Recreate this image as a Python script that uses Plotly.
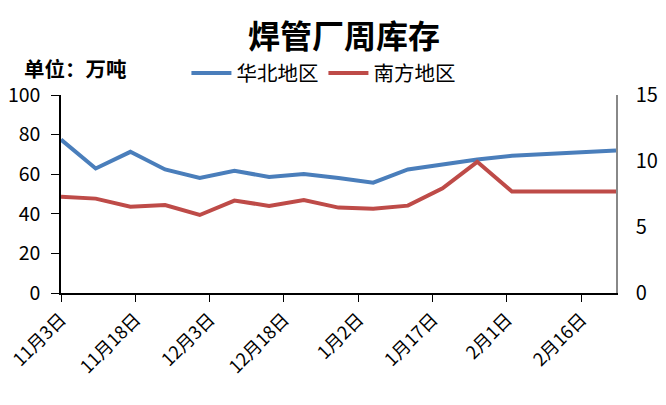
import plotly.graph_objects as go

dates = ["2014-11-03", "2014-11-10", "2014-11-17", "2014-11-24", "2014-12-01", "2014-12-08",
         "2014-12-15", "2014-12-22", "2014-12-29", "2015-01-05", "2015-01-12", "2015-01-19",
         "2015-01-26", "2015-02-02", "2015-02-09", "2015-02-16", "2015-02-23"]
huabei = [77.5, 62.9, 71.3, 62.4, 58.1, 61.7, 58.6, 60.1, 58.1, 55.7, 62.4, 65.1,
          67.4, 69.3, 70.2, 71.1, 72.0]
nanfang = [7.30, 7.15, 6.54, 6.67, 5.91, 7.00, 6.60, 7.05, 6.47, 6.39, 6.62, 7.93,
           9.94, 7.68, 7.68, 7.68, 7.68]
tick_vals = ["2014-11-03", "2014-11-18", "2014-12-03", "2014-12-18", "2015-01-02",
             "2015-01-17", "2015-02-01", "2015-02-16"]
tick_text = ["11月3日", "11月18日", "12月3日", "12月18日", "1月2日", "1月17日", "2月1日", "2月16日"]

FONT = "Noto Sans CJK SC"
W, H = 658, 397  # page body adds an 8px margin

fig = go.Figure()
fig.add_trace(go.Scatter(x=dates, y=huabei, name="华北地区", mode="lines",
                         line=dict(color="#4A7EBB", width=4)))
fig.add_trace(go.Scatter(x=dates, y=nanfang, name="南方地区", mode="lines", yaxis="y2",
                         line=dict(color="#BE4B48", width=4)))

fig.update_layout(
    width=W, height=H,
    margin=dict(l=53, r=50, t=87, b=112, autoexpand=False),
    paper_bgcolor="white", plot_bgcolor="white",
    font=dict(family=FONT, color="black", size=17),
    title=dict(text="<b>焊管厂周库存</b>", x=336 / W, xanchor="center", y=1 - 29 / H,
               yanchor="middle", font=dict(size=32, family=FONT, color="black")),
    showlegend=True,
    legend=dict(orientation="h", x=0.226, xanchor="left", y=1.11, yanchor="middle",
                font=dict(size=20.5, family=FONT), itemwidth=40, tracegroupgap=0,
                bgcolor="rgba(0,0,0,0)"),
    xaxis=dict(type="date", range=["2014-11-03", "2015-02-23"], tickvals=tick_vals,
               ticktext=tick_text, tickangle=-45, showgrid=False, zeroline=False,
               showline=True, linecolor="black", linewidth=1.5, ticks="outside",
               ticklen=7, tickcolor="black", tickfont=dict(size=18, family=FONT),
               automargin=False, ticklabeloverflow="allow"),
    yaxis=dict(range=[0, 100], dtick=20, showgrid=False, zeroline=False, showline=True,
               linecolor="black", linewidth=1.5, ticks="outside", ticklen=8,
               tickcolor="black", tickfont=dict(size=19.5, family=FONT), automargin=False,
               ticklabelstandoff=7),
    yaxis2=dict(range=[0, 15], dtick=5, overlaying="y", side="right", showgrid=False,
                zeroline=False, showline=True, linecolor="#888888", linewidth=1.5,
                ticks="", ticklabelstandoff=14, tickfont=dict(size=20, family=FONT),
                automargin=False),
    annotations=[dict(text="<b>单位：万吨</b>", xref="paper", yref="paper",
                      x=-0.0703, xanchor="left", y=1.136, yanchor="middle", showarrow=False,
                      font=dict(size=20.5, family=FONT, color="black"))],
)

fig.write_html("out.html")
